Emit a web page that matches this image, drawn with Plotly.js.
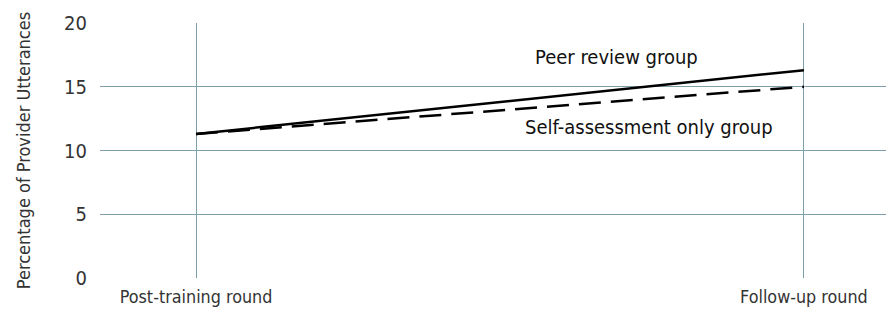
<!DOCTYPE html>
<html><head><meta charset="utf-8">
<script src="https://cdn.plot.ly/plotly-3.0.1.min.js"></script>
<style>html,body{margin:0;padding:0;background:#fff}#chart{width:886px;height:318px}</style>
</head><body><div id="chart"></div>
<script>
var rounds = ["Post-training round", "Follow-up round"];
var peerReview = [11.3, 16.3];
var selfAssessment = [11.3, 15.0];
var yTicks = [0, 5, 10, 15, 20];
var seriesLabels = ["Peer review group", "Self-assessment only group"];

var FONT = "'DejaVu Sans Condensed', 'Liberation Sans Narrow', Arial, sans-serif";
var grid = "#7f9ead";

var traces = [
  {x: [0, 1], y: peerReview, mode: "lines", line: {color: "#000", width: 2.5}, name: seriesLabels[0], hoverinfo: "skip"},
  {x: [0, 1], y: selfAssessment, mode: "lines", line: {color: "#000", width: 2.5, dash: "22px,10px"}, name: seriesLabels[1], hoverinfo: "skip"}
];

var layout = {
  width: 886, height: 318,
  margin: {l: 100, r: 0, t: 23, b: 40},
  showlegend: false,
  paper_bgcolor: "#fff", plot_bgcolor: "#fff",
  font: {family: FONT, color: "#333", size: 17},
  xaxis: {
    range: [-0.158, 1.135],
    tickvals: [0, 1], ticktext: rounds,
    showgrid: true, gridcolor: grid, gridwidth: 1,
    zeroline: false, showline: false, ticks: "",
    ticklabelstandoff: 6,
    tickfont: {family: FONT, size: 17.8, color: "#333"}
  },
  yaxis: {
    range: [0, 20],
    tickvals: yTicks,
    showgrid: true, gridcolor: grid, gridwidth: 1,
    zeroline: false, showline: false, ticks: "", ticklen: 0,
    ticklabelstandoff: 12,
    tickfont: {family: FONT, size: 20, color: "#333"},
    title: {text: "Percentage of Provider Utterances", font: {family: FONT, size: 18, color: "#333"}, standoff: 28}
  },
  annotations: [
    {x: 0.692, y: 17.3, xref: "x", yref: "y", text: seriesLabels[0], showarrow: false, font: {family: FONT, size: 20, color: "#111"}},
    {x: 0.745, y: 11.85, xref: "x", yref: "y", text: seriesLabels[1], showarrow: false, font: {family: FONT, size: 20, color: "#111"}}
  ]
};
Plotly.newPlot("chart", traces, layout, {staticPlot: true});
</script></body></html>
